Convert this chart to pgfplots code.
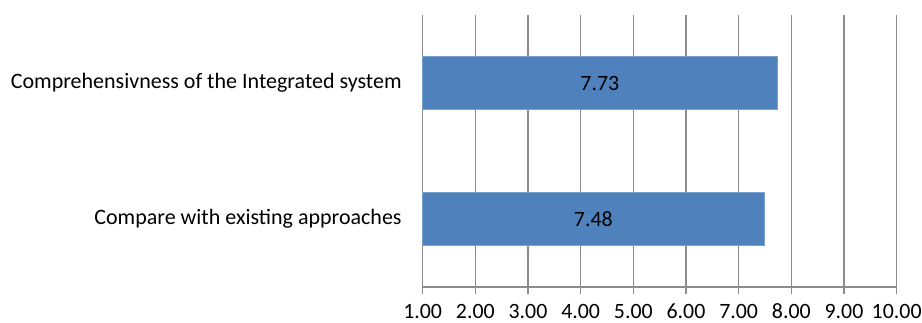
\documentclass[border=0pt]{standalone}
\usepackage{pgfplots}
\pgfplotsset{compat=1.18}
\usepackage{fontspec}
\setmainfont{Carlito}
\definecolor{barblue}{HTML}{4F81BD}
\definecolor{baredge}{HTML}{7AA0D0}
\definecolor{gridgray}{HTML}{8C8C8C}
\begin{document}
\begin{tikzpicture}
\begin{axis}[
  scale only axis,
  width=355.5pt, height=204pt,
  xbar, bar width=39.75pt, bar shift=0pt,
  xmin=1, xmax=10,
  ymin=-0.5, ymax=1.5,
  axis x line=bottom, axis y line=left,
  axis line style={draw=gridgray, line width=0.8pt, -},
  xtick={1,2,...,10},
  xmajorgrids, major grid style={draw=gridgray, line width=0.8pt},
  xticklabel style={/pgf/number format/fixed, /pgf/number format/fixed zerofill, /pgf/number format/precision=2},
  /pgf/number format/assume math mode=true,
  x tick label style={font=\fontsize{16.4}{19}\selectfont, text height=10.4pt, text depth=0pt, inner sep=0pt, yshift=-7.5pt},
  xtick style={draw=gridgray, line width=0.8pt},
  tick align=outside,
  major tick length=5.25pt,
  ytick={0,1},
  yticklabels={Compare with existing approaches, Comprehensivness of the Integrated system},
  y tick label style={font=\fontsize{16.5}{20}\selectfont, xshift=-7pt},
  ytick style={draw=none},
  extra y ticks={-0.5,0.5,1.5},
  extra y tick labels={},
  extra y tick style={tick style={draw=gridgray, line width=0.8pt}, major tick length=6pt, grid=none},
  point meta=x,
  nodes near coords={\pgfmathprintnumber[fixed, fixed zerofill, precision=2]{\pgfplotspointmeta}},
  visualization depends on={x \as \rawx},
  every node near coord/.append style={anchor=center, font=\fontsize{16.4}{19}\selectfont, text=black, xshift={-(\rawx-1)*19.75pt}},
  clip=false,
]
\addplot[fill=barblue, draw=baredge, line width=0.6pt] coordinates {(7.48,0) (7.73,1)};
\coordinate (SW) at (rel axis cs:0,0);
\coordinate (NE) at (rel axis cs:1,1);
\end{axis}
\pgfresetboundingbox
\path ([shift={(-317pt,-26.25pt)}]SW) rectangle ([shift={(19pt,11.25pt)}]NE);
\end{tikzpicture}
\end{document}
